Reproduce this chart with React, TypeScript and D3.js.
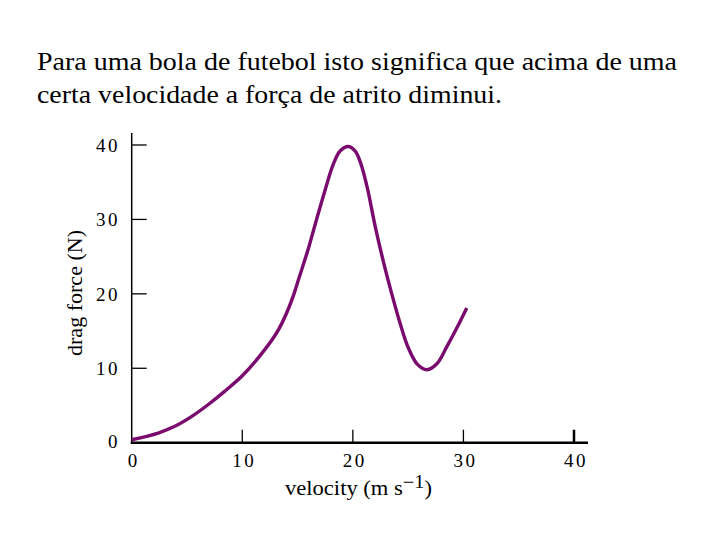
import React from "react";
import * as d3 from "d3";

const velocity = [0, 2.4, 3.9, 5.4, 6.9, 8.4, 10.0, 11.5, 13.0, 13.6, 14.2, 14.7, 15.1, 15.6, 16.0, 16.7, 17.5, 18.2, 18.85, 19.6, 20.2, 20.7, 21.3, 22.0, 22.8, 23.5, 24.3, 25.0, 25.8, 26.7, 27.6, 28.5, 29.4, 30.3];
const dragForce = [0.4, 1.3, 2.2, 3.5, 5.1, 6.9, 9.0, 11.5, 14.5, 16.1, 18.1, 20.1, 22.0, 24.3, 26.2, 29.9, 34.0, 37.3, 39.2, 39.8, 39.2, 37.6, 34.3, 29.2, 24.1, 20.1, 15.9, 12.8, 10.6, 9.8, 10.6, 12.9, 15.4, 18.1];
const xTicks = [0, 10, 20, 30, 40];
const yTicks = [0, 10, 20, 30, 40];
const titleLines = [
  "Para uma bola de futebol isto significa que acima de uma",
  "certa velocidade a força de atrito diminui.",
];

export default function App() {
  const x = d3.scaleLinear().domain([0, 40]).range([131.7, 574]);
  const y = d3.scaleLinear().domain([0, 40]).range([442.7, 145]);
  const pts: [number, number][] = velocity.map((v, i) => [v, dragForce[i]]);
  const line = d3
    .line<[number, number]>()
    .x((d) => x(d[0]))
    .y((d) => y(d[1]))
    .curve(d3.curveCatmullRom.alpha(0.5));
  const font = "Liberation Serif";
  const purple = "#7a0a6e";
  return (
    <svg
      width={720}
      height={540}
      style={{ position: "absolute", left: 0, top: 0, background: "#fff", fontFamily: font }}
    >
      <rect width={720} height={540} fill="#fff" />
      <text x={37} y={70} fontSize={26} fill="#000" textLength={640} lengthAdjust="spacingAndGlyphs">
        {titleLines[0]}
      </text>
      <text x={37} y={103} fontSize={26} fill="#000" textLength={465} lengthAdjust="spacingAndGlyphs">
        {titleLines[1]}
      </text>

      {/* y axis */}
      <line x1={x(0)} x2={x(0)} y1={133} y2={y(0)} stroke="#000" strokeWidth={1.5} />
      {yTicks.map((t) => (
        <g key={"y" + t}>
          {t > 0 && (
            <line x1={x(0)} x2={x(0) + 15} y1={y(t)} y2={y(t)} stroke="#000" strokeWidth={1.3} />
          )}
          <text
            x={120}
            y={y(t) + (t === 0 ? -1 : 0)}
            dy="0.35em"
            textAnchor="end"
            fontSize={19}
            letterSpacing={2.5}
            fill="#000"
          >
            {t}
          </text>
        </g>
      ))}

      {/* x axis */}
      <line x1={x(0) - 1} x2={588} y1={y(0)} y2={y(0)} stroke="#000" strokeWidth={2.5} />
      {xTicks.map((t) => (
        <g key={"x" + t}>
          {t > 0 && (
            <line
              x1={x(t)}
              x2={x(t)}
              y1={y(0)}
              y2={y(0) - 13}
              stroke="#000"
              strokeWidth={t === 40 ? 2.5 : 1.3}
            />
          )}
          <text x={x(t) + 2} y={467} textAnchor="middle" fontSize={19} letterSpacing={2.5} fill="#000">
            {t}
          </text>
        </g>
      ))}

      {/* axis labels */}
      <text x={285} y={495} fontSize={20} fill="#000" textLength={147} lengthAdjust="spacingAndGlyphs">
        velocity (m s
        <tspan dy={-7} fontSize={18}>−1</tspan>
        <tspan dy={7}>)</tspan>
      </text>
      <text
        transform={`translate(82, 293) rotate(-90)`}
        textAnchor="middle"
        fontSize={21}
        fill="#000"
        textLength={126}
        lengthAdjust="spacingAndGlyphs"
      >
        drag force (N)
      </text>

      <path d={line(pts) ?? ""} fill="none" stroke={purple} strokeWidth={3.4} strokeLinejoin="round" />
    </svg>
  );
}
